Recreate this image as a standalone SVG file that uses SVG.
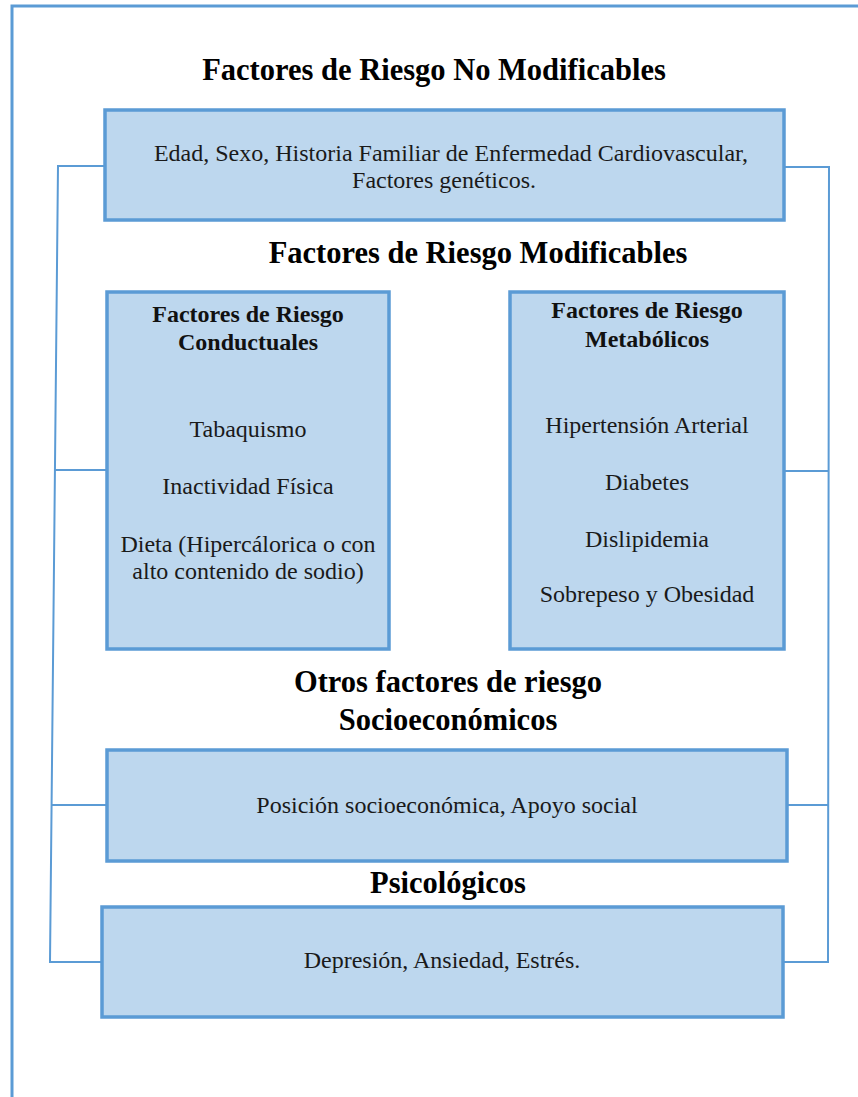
<svg xmlns="http://www.w3.org/2000/svg" width="858" height="1097" viewBox="0 0 858 1097">
<style>
.box{fill:#BDD7EE;stroke:#5B9BD5;stroke-width:3.5}
.con{fill:none;stroke:#5B9BD5;stroke-width:2}
.frame{fill:none;stroke:#5B9BD5;stroke-width:3}
text{font-family:'Liberation Serif','Times New Roman',serif;text-anchor:middle}
.h{font-weight:bold;font-size:30.5px;fill:#000}
.hb{font-weight:bold;font-size:24px;fill:#111}
.t{font-size:24px;fill:#1a1a1a}
</style>
<rect width="858" height="1097" fill="#fff"/>
<path class="frame" d="M12,1097 V6 H858"/>
<g id="connectors">
<polyline class="con" points="105,166 58,166 50,962 102,962"/>
<line class="con" x1="55" y1="470" x2="107" y2="470"/>
<line class="con" x1="52" y1="805" x2="107" y2="805"/>
<polyline class="con" points="784,167 829,167 828,962 783,962"/>
<line class="con" x1="784" y1="471" x2="828" y2="471"/>
<line class="con" x1="787" y1="805" x2="828" y2="805"/>
</g>
<g id="title-no-modificables"><text class="h" x="434" y="80">Factores de Riesgo No Modificables</text></g>
<g id="no-modificables">
<rect class="box" x="105" y="110" width="679" height="110"/>
<text class="t" x="451" y="161">Edad, Sexo, Historia Familiar de Enfermedad Cardiovascular,</text>
<text class="t" x="444" y="188">Factores genéticos.</text>
</g>
<g id="title-modificables"><text class="h" x="478" y="263">Factores de Riesgo Modificables</text></g>
<g id="conductuales">
<rect class="box" x="107" y="292" width="282" height="357"/>
<text class="hb" x="248" y="322">Factores de Riesgo</text>
<text class="hb" x="248" y="350">Conductuales</text>
<text class="t" x="248" y="437">Tabaquismo</text>
<text class="t" x="248" y="494">Inactividad Física</text>
<text class="t" x="248" y="552">Dieta (Hipercálorica o con</text>
<text class="t" x="248" y="579">alto contenido de sodio)</text>
</g>
<g id="metabolicos">
<rect class="box" x="510" y="292" width="274" height="357"/>
<text class="hb" x="647" y="318">Factores de Riesgo</text>
<text class="hb" x="647" y="347">Metabólicos</text>
<text class="t" x="647" y="433">Hipertensión Arterial</text>
<text class="t" x="647" y="490">Diabetes</text>
<text class="t" x="647" y="547">Dislipidemia</text>
<text class="t" x="647" y="602">Sobrepeso y Obesidad</text>
</g>
<g id="title-otros">
<text class="h" x="448" y="692">Otros factores de riesgo</text>
<text class="h" x="448" y="730">Socioeconómicos</text>
</g>
<g id="socioeconomicos">
<rect class="box" x="107" y="750" width="680" height="111"/>
<text class="t" x="447" y="813">Posición socioeconómica, Apoyo social</text>
</g>
<g id="title-psicologicos"><text class="h" x="448" y="893">Psicológicos</text></g>
<g id="psicologicos">
<rect class="box" x="102" y="907" width="681" height="110"/>
<text class="t" x="442" y="968">Depresión, Ansiedad, Estrés.</text>
</g>
</svg>
